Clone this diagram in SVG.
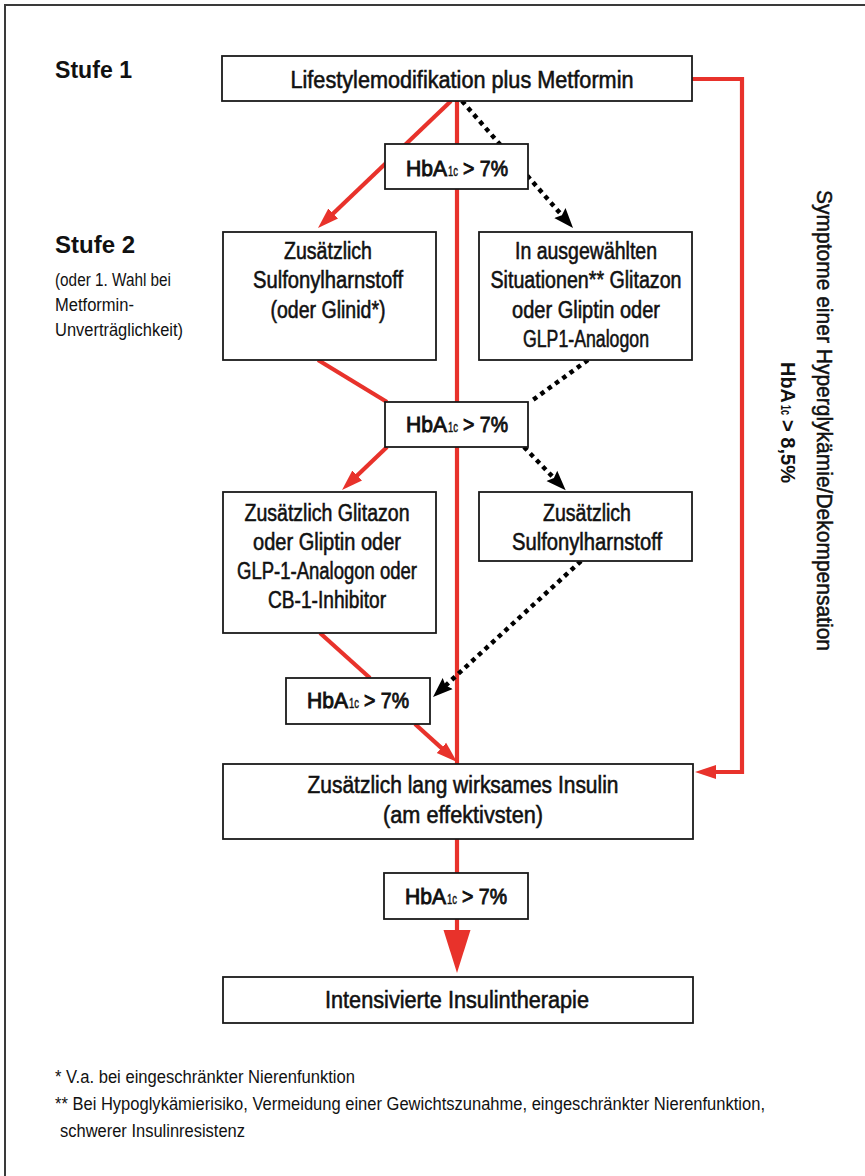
<svg xmlns="http://www.w3.org/2000/svg" width="865" height="1176" viewBox="0 0 865 1176">
<defs>
<style>
.box{fill:#fff;stroke:#1a1a1a;stroke-width:1.8}
.t{font-family:"Liberation Sans",Arial,sans-serif;font-size:23px;fill:#111;stroke:#111;stroke-width:0.55;text-anchor:middle}
.h{font-family:"Liberation Sans",Arial,sans-serif;font-size:22.5px;fill:#111;stroke:#111;stroke-width:0.9}
.s{font-size:15px;stroke-width:0.45}
.red{fill:none;stroke:#e8322b;stroke-width:4.2}
.dot{fill:none;stroke:#000;stroke-width:4.5;stroke-dasharray:4.5 4.5}
.lab{font-family:"Liberation Sans",Arial,sans-serif;fill:#111}
</style>
<marker id="ar" markerUnits="userSpaceOnUse" viewBox="0 -8 22 16" markerWidth="22" markerHeight="16" refX="4" refY="0" orient="auto"><path d="M0,-7 L21,0 L0,7 Z" fill="#e8322b"/></marker>
<marker id="ab" markerUnits="userSpaceOnUse" viewBox="0 -8 22 16" markerWidth="22" markerHeight="16" refX="4" refY="0" orient="auto"><path d="M0,-7.5 L20,0 L0,7.5 L3,0 Z" fill="#000"/></marker>
<marker id="arb" markerUnits="userSpaceOnUse" viewBox="0 -14 44 28" markerWidth="44" markerHeight="28" refX="2" refY="0" orient="auto"><path d="M0,-13.5 L43,0 L0,13.5 Z" fill="#e8322b"/></marker>
</defs>
<path d="M5,1176 V5 H865" fill="none" stroke="#3a3a3a" stroke-width="2"/>

<g id="labels">
<text class="lab" x="55" y="78" font-size="24" font-weight="bold" textLength="77" lengthAdjust="spacingAndGlyphs">Stufe 1</text>
<text class="lab" x="55" y="253" font-size="24" font-weight="bold" textLength="80" lengthAdjust="spacingAndGlyphs">Stufe 2</text>
<text class="lab" x="55" y="286" font-size="17.5" textLength="116" lengthAdjust="spacingAndGlyphs">(oder 1. Wahl bei</text>
<text class="lab" x="55" y="311" font-size="17.5" textLength="79" lengthAdjust="spacingAndGlyphs">Metformin-</text>
<text class="lab" x="55" y="336" font-size="17.5" textLength="128" lengthAdjust="spacingAndGlyphs">Unverträglichkeit)</text>
</g>

<g id="connectors">
<path class="red" d="M457,101 V764"/>
<path class="red" d="M451,101 L330.3,216.3" marker-end="url(#ar)"/>
<path class="dot" d="M462,101 L562.5,216" marker-end="url(#ab)"/>
<path class="red" d="M318,360 L387,402"/>
<path class="dot" d="M588,360 L530,402"/>
<path class="red" d="M387,447 L354.3,478.3" marker-end="url(#ar)"/>
<path class="dot" d="M524,447 L554.6,478.8" marker-end="url(#ab)"/>
<path class="red" d="M320,633 L370,678"/>
<path class="dot" d="M581,561 L444.8,686.2" marker-end="url(#ab)"/>
<path class="red" d="M415,724 L444.4,750.6" marker-end="url(#ar)"/>
<path class="red" d="M692,79 H742 V772 H712" marker-end="url(#ar)"/>
<path class="red" d="M457,839 V932" marker-end="url(#arb)"/>
</g>

<g id="n_top">
<rect class="box" x="222" y="56" width="470" height="45"/>
<text class="t" x="462" y="88" textLength="343" lengthAdjust="spacingAndGlyphs">Lifestylemodifikation plus Metformin</text>
</g>

<g id="n_hba1">
<rect class="box" x="385" y="144" width="143" height="45"/>
<text class="h" y="176"><tspan x="406" textLength="41" lengthAdjust="spacingAndGlyphs">HbA</tspan><tspan class="s" x="448" textLength="10" lengthAdjust="spacingAndGlyphs">1c</tspan><tspan x="463" textLength="45" lengthAdjust="spacingAndGlyphs">&gt; 7%</tspan></text>
</g>

<g id="n_sulf">
<rect class="box" x="223" y="232" width="213" height="128"/>
<text class="t" x="328" y="259" textLength="88" lengthAdjust="spacingAndGlyphs">Zusätzlich</text>
<text class="t" x="328" y="288" textLength="150" lengthAdjust="spacingAndGlyphs">Sulfonylharnstoff</text>
<text class="t" x="328" y="318" textLength="115" lengthAdjust="spacingAndGlyphs">(oder Glinid*)</text>
</g>

<g id="n_sel">
<rect class="box" x="479" y="232" width="213" height="128"/>
<text class="t" x="586" y="259" textLength="142" lengthAdjust="spacingAndGlyphs">In ausgewählten</text>
<text class="t" x="586" y="288" textLength="191" lengthAdjust="spacingAndGlyphs">Situationen** Glitazon</text>
<text class="t" x="586" y="318" textLength="148" lengthAdjust="spacingAndGlyphs">oder Gliptin oder</text>
<text class="t" x="586" y="347" textLength="126" lengthAdjust="spacingAndGlyphs">GLP1-Analogon</text>
</g>

<g id="n_hba2">
<rect class="box" x="385" y="402" width="143" height="45"/>
<text class="h" y="432"><tspan x="406" textLength="41" lengthAdjust="spacingAndGlyphs">HbA</tspan><tspan class="s" x="448" textLength="10" lengthAdjust="spacingAndGlyphs">1c</tspan><tspan x="463" textLength="45" lengthAdjust="spacingAndGlyphs">&gt; 7%</tspan></text>
</g>

<g id="n_glit">
<rect class="box" x="223" y="492" width="213" height="141"/>
<text class="t" x="327" y="521" textLength="165" lengthAdjust="spacingAndGlyphs">Zusätzlich Glitazon</text>
<text class="t" x="327" y="550" textLength="148" lengthAdjust="spacingAndGlyphs">oder Gliptin oder</text>
<text class="t" x="327" y="579" textLength="180" lengthAdjust="spacingAndGlyphs">GLP-1-Analogon oder</text>
<text class="t" x="327" y="608" textLength="118" lengthAdjust="spacingAndGlyphs">CB-1-Inhibitor</text>
</g>

<g id="n_sulf2">
<rect class="box" x="479" y="492" width="213" height="69"/>
<text class="t" x="587" y="521" textLength="88" lengthAdjust="spacingAndGlyphs">Zusätzlich</text>
<text class="t" x="587" y="549.5" textLength="150" lengthAdjust="spacingAndGlyphs">Sulfonylharnstoff</text>
</g>

<g id="n_hba3">
<rect class="box" x="286" y="678" width="144" height="46"/>
<text class="h" y="708"><tspan x="307" textLength="41" lengthAdjust="spacingAndGlyphs">HbA</tspan><tspan class="s" x="349" textLength="10" lengthAdjust="spacingAndGlyphs">1c</tspan><tspan x="364" textLength="45" lengthAdjust="spacingAndGlyphs">&gt; 7%</tspan></text>
</g>

<g id="n_insulin">
<rect class="box" x="223" y="764" width="470" height="75"/>
<text class="t" x="463" y="793" textLength="311" lengthAdjust="spacingAndGlyphs">Zusätzlich lang wirksames Insulin</text>
<text class="t" x="463" y="823" textLength="160" lengthAdjust="spacingAndGlyphs">(am effektivsten)</text>
</g>

<g id="n_hba4">
<rect class="box" x="384" y="873" width="144" height="46"/>
<text class="h" y="904"><tspan x="405" textLength="41" lengthAdjust="spacingAndGlyphs">HbA</tspan><tspan class="s" x="447" textLength="10" lengthAdjust="spacingAndGlyphs">1c</tspan><tspan x="462" textLength="45" lengthAdjust="spacingAndGlyphs">&gt; 7%</tspan></text>
</g>

<g id="n_final">
<rect class="box" x="223" y="977" width="470" height="46"/>
<text class="t" x="457" y="1008" textLength="264" lengthAdjust="spacingAndGlyphs">Intensivierte Insulintherapie</text>
</g>

<g id="side_label">
<text class="lab" transform="translate(817,190) rotate(90)" font-size="21.5" stroke="#111" stroke-width="0.5" textLength="461" lengthAdjust="spacingAndGlyphs">Symptome einer Hyperglykämie/Dekompensation</text>
<text class="lab" transform="translate(781,362) rotate(90)" font-size="21" font-weight="bold"><tspan x="0" textLength="41" lengthAdjust="spacingAndGlyphs">HbA</tspan><tspan x="43" font-size="14" textLength="10" lengthAdjust="spacingAndGlyphs">1c</tspan><tspan x="58" textLength="63" lengthAdjust="spacingAndGlyphs">&gt; 8,5%</tspan></text>
</g>

<g id="footnotes">
<text class="lab" x="55" y="1083" font-size="17.5" textLength="300" lengthAdjust="spacingAndGlyphs">* V.a. bei eingeschränkter Nierenfunktion</text>
<text class="lab" x="55" y="1110" font-size="17.5" textLength="710" lengthAdjust="spacingAndGlyphs">** Bei Hypoglykämierisiko, Vermeidung einer Gewichtszunahme, eingeschränkter Nierenfunktion,</text>
<text class="lab" x="60" y="1137" font-size="17.5" textLength="185" lengthAdjust="spacingAndGlyphs">schwerer Insulinresistenz</text>
</g>
</svg>
